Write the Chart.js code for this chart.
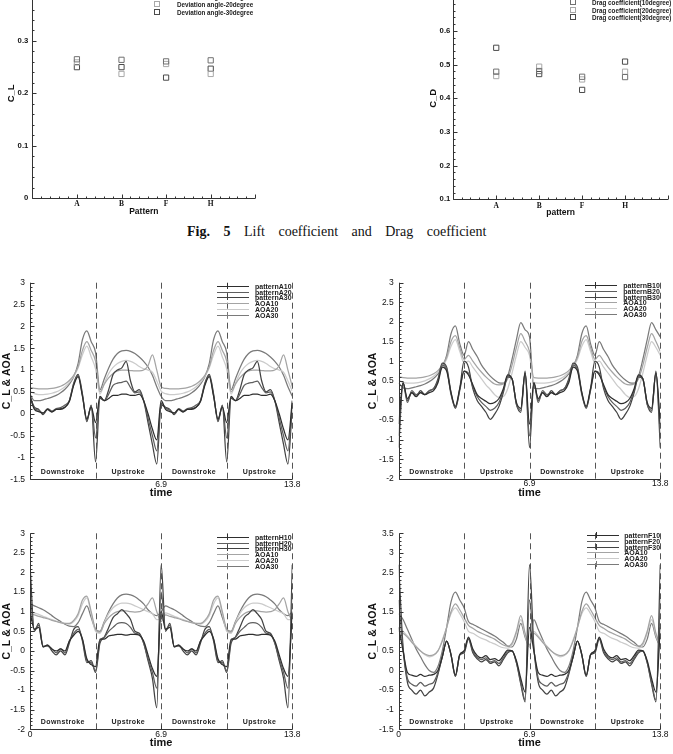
<!DOCTYPE html>
<html>
<head>
<meta charset="utf-8">
<title>Lift coefficient and Drag coefficient</title>
<script src="https://cdn.jsdelivr.net/npm/chart.js@4.4.1/dist/chart.umd.min.js"></script>
<style>
html,body{margin:0;padding:0;background:#fff;}
body{position:relative;width:673px;height:754px;overflow:hidden;font-family:'Liberation Sans',Arial,sans-serif;}
canvas{position:absolute;}
.lgt{position:absolute;font-weight:bold;font-size:7px;line-height:7px;color:#222;white-space:nowrap;transform:translateY(-50%);}
.lgl{position:absolute;height:0;border-top:1.2px solid #333;}
.lgk{position:absolute;width:0;height:6px;border-left:1px solid #333;}
.sq{position:absolute;width:4px;height:4px;border:1px solid #777;transform:translate(-50%,-50%);}
.slg{position:absolute;font-weight:bold;font-size:6.3px;line-height:7px;color:#222;white-space:nowrap;transform:translateY(-50%);}
.stroke{position:absolute;font-weight:bold;font-size:7px;letter-spacing:0.4px;color:#222;white-space:nowrap;transform:translate(-50%,-50%);}
.cap{position:absolute;left:187px;top:224px;font-family:'Liberation Serif','Times New Roman',serif;font-size:14px;word-spacing:10px;color:#111;white-space:nowrap;}
</style>
</head>
<body>
<div class="cap"><b>Fig. 5</b> Lift coefficient and Drag coefficient</div>
<script>
// ---------- top scatter data ----------
const categories = ['A', 'B', 'F', 'H'];
const clDev10 = [0.265, 0.264, 0.261, 0.263];
const clDev20 = [0.259, 0.237, 0.256, 0.237];
const clDev30 = [0.250, 0.250, 0.230, 0.247];
const cdDeg10 = [0.479, 0.481, 0.464, 0.463];
const cdDeg20 = [0.466, 0.494, 0.456, 0.479];
const cdDeg30 = [0.550, 0.472, 0.425, 0.509];
const clLegend = ['Deviation angle-10degree', 'Deviation angle-20degree', 'Deviation angle-30degree'];
const cdLegend = ['Drag coefficient(10degree)', 'Drag coefficient(20degree)', 'Drag coefficient(30degree)'];

// ---------- time series data ----------
const timeTicks = [0, 6.9, 13.8];
const strokeBounds = [0, 3.45, 6.9, 10.35, 13.8];
const strokeNames = ['Downstroke', 'Upstroke', 'Downstroke', 'Upstroke'];
const time = [0,0.23,0.46,0.69,0.92,1.15,1.38,1.61,1.84,2.07,2.3,2.53,2.76,2.99,3.22,3.45,3.68,3.91,4.14,4.37,4.6,4.83,5.06,5.29,5.52,5.75,5.98,6.21,6.44,6.67,6.9,
  7.13,7.36,7.59,7.82,8.05,8.28,8.51,8.74,8.97,9.2,9.43,9.66,9.89,10.12,10.35,10.58,10.81,11.04,11.27,11.5,11.73,11.96,12.19,12.42,12.65,12.88,13.11,13.34,13.57,13.8];

const labelsA = ['patternA10', 'patternA20', 'patternA30', 'AOA10', 'AOA20', 'AOA30'];
const labelsB = ['patternB10', 'patternB20', 'patternB30', 'AOA10', 'AOA20', 'AOA30'];
const labelsH = ['patternH10', 'patternH20', 'patternH30', 'AOA10', 'AOA20', 'AOA30'];
const labelsF = ['patternF10', 'patternF20', 'patternF30', 'AOA10', 'AOA20', 'AOA30'];

const aCl10 = [0.4,0.1,0.05,0.02,0.1,0.04,0.1,0.1,0.15,0.28,0.65,0.85,0.4,-0.12,0.15,-0.2,0.4,0.3,0.35,0.42,0.42,0.45,0.45,0.42,0.42,0.45,0.3,0,-0.35,-0.6,0.3,
  0.1,0.05,0.02,0.1,0.04,0.1,0.1,0.15,0.28,0.65,0.85,0.4,-0.12,0.15,-0.2,0.4,0.3,0.35,0.42,0.42,0.45,0.45,0.42,0.42,0.45,0.3,0,-0.35,-0.6,0.3];
const aCl20 = [0.4,0.13,0.08,0,0.12,0.06,0.12,0.14,0.2,0.3,0.68,0.88,0.42,-0.15,0.18,-0.55,0.38,0.3,0.45,0.65,0.7,0.72,0.75,0.6,0.48,0.5,0.3,-0.1,-0.5,-0.85,0.25,
  0.13,0.08,0,0.12,0.06,0.12,0.14,0.2,0.3,0.68,0.88,0.42,-0.15,0.18,-0.55,0.38,0.3,0.45,0.65,0.7,0.72,0.75,0.6,0.48,0.5,0.3,-0.1,-0.5,-0.85,0.25];
const aCl30 = [0.4,0.15,0.1,-0.02,0.1,0.05,0.1,0.12,0.15,0.3,0.7,0.9,0.45,-0.18,0.2,-1.1,0.35,0.3,0.55,0.9,1,1.05,1.2,0.75,0.5,0.55,0.3,-0.2,-0.7,-1.15,0.2,
  0.15,0.1,-0.02,0.1,0.05,0.1,0.12,0.15,0.3,0.7,0.9,0.45,-0.18,0.2,-1.1,0.35,0.3,0.55,0.9,1,1.05,1.2,0.75,0.5,0.55,0.3,-0.2,-0.7,-1.15,0.2];
const aAoa10 = [0.6,0.58,0.57,0.57,0.57,0.58,0.6,0.63,0.68,0.76,0.88,1.08,1.45,1.65,1.45,1.2,0.5,0.68,0.82,0.92,0.98,1,1,0.99,0.98,0.98,1,1.1,1.35,1,0.62,
  0.58,0.57,0.57,0.57,0.58,0.6,0.63,0.68,0.76,0.88,1.08,1.45,1.65,1.45,1.2,0.5,0.68,0.82,0.92,0.98,1,1,0.99,0.98,0.98,1,1.1,1.35,1,0.62];
const aAoa20 = [0.52,0.46,0.44,0.44,0.45,0.47,0.5,0.55,0.62,0.72,0.86,1.05,1.35,1.55,1.3,1.02,0.45,0.7,0.92,1.06,1.15,1.2,1.22,1.2,1.15,1.08,1.03,1,0.95,0.75,0.52,
  0.46,0.44,0.44,0.45,0.47,0.5,0.55,0.62,0.72,0.86,1.05,1.35,1.55,1.3,1.02,0.45,0.7,0.92,1.06,1.15,1.2,1.22,1.2,1.15,1.08,1.03,1,0.95,0.75,0.52];
const aAoa30 = [0.45,0.3,0.3,0.32,0.35,0.38,0.42,0.48,0.56,0.68,0.85,1.15,1.7,1.9,1.65,1.4,0.55,0.8,1.05,1.25,1.38,1.44,1.45,1.43,1.38,1.3,1.2,1.07,0.88,0.62,0.4,
  0.3,0.3,0.32,0.35,0.38,0.42,0.48,0.56,0.68,0.85,1.15,1.7,1.9,1.65,1.4,0.55,0.8,1.05,1.25,1.38,1.44,1.45,1.43,1.38,1.3,1.2,1.07,0.88,0.62,0.4];

const bCl10 = [-0.6,0.45,0.05,0.2,0.1,0.2,0.15,0.2,0.25,0.45,0.85,0.75,0.2,-0.15,0.3,0.75,0.65,0.4,0.15,0.05,-0.02,-0.08,-0.05,0.05,0.3,0.65,0.55,-0.05,-0.2,0.7,-0.6,
  0.45,0.05,0.2,0.1,0.2,0.15,0.2,0.25,0.45,0.85,0.75,0.2,-0.15,0.3,0.75,0.65,0.4,0.15,0.05,-0.02,-0.08,-0.05,0.05,0.3,0.65,0.55,-0.05,-0.2,0.7,-0.6];
const bCl20 = [-0.9,0.45,-0.05,0.25,0.15,0.2,0.15,0.25,0.3,0.5,0.9,0.8,0.15,-0.18,0.25,0.75,0.7,0.35,0.1,-0.05,-0.15,-0.25,-0.2,-0.05,0.25,0.62,0.55,-0.1,-0.25,0.7,-0.9,
  0.45,-0.05,0.25,0.15,0.2,0.15,0.25,0.3,0.5,0.9,0.8,0.15,-0.18,0.25,0.75,0.7,0.35,0.1,-0.05,-0.15,-0.25,-0.2,-0.05,0.25,0.62,0.55,-0.1,-0.25,0.7,-0.9];
const bCl30 = [-1.2,0.45,0,0.2,0.1,0.25,0.15,0.25,0.3,0.55,0.95,0.85,0.2,-0.2,0.3,1,0.85,0.3,0,-0.15,-0.3,-0.48,-0.35,-0.15,0.2,0.6,0.55,-0.1,-0.3,0.75,-1.2,
  0.45,0,0.2,0.1,0.25,0.15,0.25,0.3,0.55,0.95,0.85,0.2,-0.2,0.3,1,0.85,0.3,0,-0.15,-0.3,-0.48,-0.35,-0.15,0.2,0.6,0.55,-0.1,-0.3,0.75,-1.2];
const bAoa10 = [0.6,0.58,0.57,0.57,0.57,0.58,0.6,0.63,0.68,0.76,0.9,1.1,1.5,1.65,1.35,1.05,1.15,1,0.85,0.72,0.6,0.5,0.42,0.4,0.42,0.55,0.9,1.35,1.7,1.5,1.25,
  0.58,0.57,0.57,0.57,0.58,0.6,0.63,0.68,0.76,0.9,1.1,1.5,1.65,1.35,1.05,1.15,1,0.85,0.72,0.6,0.5,0.42,0.4,0.42,0.55,0.9,1.35,1.7,1.5,1.25];
const bAoa20 = [0.52,0.46,0.44,0.44,0.45,0.47,0.5,0.55,0.62,0.72,0.86,1.05,1.38,1.55,1.25,0.95,1,0.85,0.7,0.55,0.4,0.28,0.15,0.08,0.1,0.3,0.7,1.15,1.5,1.35,1.15,
  0.46,0.44,0.44,0.45,0.47,0.5,0.55,0.62,0.72,0.86,1.05,1.38,1.55,1.25,0.95,1,0.85,0.7,0.55,0.4,0.28,0.15,0.08,0.1,0.3,0.7,1.15,1.5,1.35,1.15];
const bAoa30 = [0.45,0.32,0.3,0.32,0.35,0.38,0.42,0.48,0.56,0.68,0.85,1.15,1.7,1.9,1.45,1.15,1.5,1.3,1.12,0.9,0.75,0.62,0.52,0.45,0.44,0.62,1.05,1.55,1.98,1.8,1.62,
  0.32,0.3,0.32,0.35,0.38,0.42,0.48,0.56,0.68,0.85,1.15,1.7,1.9,1.45,1.15,1.5,1.3,1.12,0.9,0.75,0.62,0.52,0.45,0.44,0.62,1.05,1.55,1.98,1.8,1.62];

const hCl10 = [1,0.55,0.6,0.1,0.15,0.05,0,0.05,0,0.25,0.4,0.5,0.3,-0.2,-0.35,-0.4,0.3,0.3,0.38,0.4,0.42,0.42,0.4,0.42,0.42,0.4,0.25,-0.1,-0.45,-0.65,1,
  0.55,0.6,0.1,0.15,0.05,0,0.05,0,0.25,0.4,0.5,0.3,-0.2,-0.35,-0.4,0.3,0.3,0.38,0.4,0.42,0.42,0.4,0.42,0.42,0.4,0.25,-0.1,-0.45,-0.65,1];
const hCl20 = [1.5,0.55,0.65,0.12,0.12,0.05,-0.05,0.05,-0.05,0.25,0.45,0.55,0.3,-0.25,-0.3,-0.5,0.25,0.35,0.5,0.6,0.7,0.72,0.7,0.6,0.45,0.42,0.2,-0.2,-0.55,-0.95,1.5,
  0.55,0.65,0.12,0.12,0.05,-0.05,0.05,-0.05,0.25,0.45,0.55,0.3,-0.25,-0.3,-0.5,0.25,0.35,0.5,0.6,0.7,0.72,0.7,0.6,0.45,0.42,0.2,-0.2,-0.55,-0.95,1.5];
const hCl30 = [2.2,0.5,0.7,0.1,0.15,0,-0.1,0,-0.1,0.2,0.55,0.62,0.25,-0.3,-0.25,-0.55,0.2,0.35,0.6,0.85,0.95,1.05,0.95,0.8,0.5,0.45,0.2,-0.25,-0.7,-1.45,2.2,
  0.5,0.7,0.1,0.15,0,-0.1,0,-0.1,0.2,0.55,0.62,0.25,-0.3,-0.25,-0.55,0.2,0.35,0.6,0.85,0.95,1.05,0.95,0.8,0.5,0.45,0.2,-0.25,-0.7,-1.45,2.2];
const hAoa10 = [0.95,0.92,0.88,0.85,0.82,0.78,0.75,0.72,0.7,0.7,0.78,0.95,1.3,1.4,1,0.55,0.48,0.7,0.85,0.95,1,1.02,1.02,1,0.99,1,1.05,1.2,1.35,1,0.75,
  0.92,0.88,0.85,0.82,0.78,0.75,0.72,0.7,0.7,0.78,0.95,1.3,1.4,1,0.55,0.48,0.7,0.85,0.95,1,1.02,1.02,1,0.99,1,1.05,1.2,1.35,1,0.75];
const hAoa20 = [1,0.97,0.93,0.88,0.84,0.8,0.76,0.72,0.7,0.68,0.75,0.9,1.2,1.35,0.95,0.5,0.45,0.72,0.95,1.1,1.18,1.22,1.22,1.2,1.15,1.1,1.05,1,0.95,0.8,0.8,
  0.97,0.93,0.88,0.84,0.8,0.76,0.72,0.7,0.68,0.75,0.9,1.2,1.35,0.95,0.5,0.45,0.72,0.95,1.1,1.18,1.22,1.22,1.2,1.15,1.1,1.05,1,0.95,0.8,0.8];
const hAoa30 = [1.2,1.15,1.1,1.05,0.98,0.9,0.82,0.75,0.68,0.63,0.62,0.72,0.95,1.15,0.85,0.55,0.5,0.75,1,1.2,1.35,1.43,1.45,1.43,1.38,1.3,1.2,1.05,0.95,0.9,1,
  1.15,1.1,1.05,0.98,0.9,0.82,0.75,0.68,0.63,0.62,0.72,0.95,1.15,0.85,0.55,0.5,0.75,1,1.2,1.35,1.43,1.45,1.43,1.38,1.3,1.2,1.05,0.95,0.9,1];

const fCl10 = [1.1,0.5,-0.05,-0.12,-0.15,-0.1,-0.15,-0.12,-0.1,0,0.35,0.75,0.4,-0.12,0.4,0.5,0.85,0.55,0.38,0.32,0.38,0.28,0.3,0.25,0.38,0.52,0.5,0.25,-0.2,-0.55,1.1,
  0.5,-0.05,-0.12,-0.15,-0.1,-0.15,-0.12,-0.1,0,0.35,0.75,0.4,-0.12,0.4,0.5,0.85,0.55,0.38,0.32,0.38,0.28,0.3,0.25,0.38,0.52,0.5,0.25,-0.2,-0.55,1.1];
const fCl20 = [1.8,0.55,-0.2,-0.35,-0.4,-0.3,-0.4,-0.35,-0.3,-0.05,0.35,0.75,0.4,-0.15,0.4,0.5,0.82,0.5,0.33,0.28,0.32,0.22,0.25,0.18,0.32,0.48,0.5,0.2,-0.3,-0.75,1.8,
  0.55,-0.2,-0.35,-0.4,-0.3,-0.4,-0.35,-0.3,-0.05,0.35,0.75,0.4,-0.15,0.4,0.5,0.82,0.5,0.33,0.28,0.32,0.22,0.25,0.18,0.32,0.48,0.5,0.2,-0.3,-0.75,1.8];
const fCl30 = [2.7,0.6,-0.3,-0.5,-0.6,-0.5,-0.65,-0.55,-0.45,-0.1,0.35,0.75,0.4,-0.15,0.4,0.45,0.8,0.45,0.3,0.22,0.28,0.18,0.22,0.12,0.28,0.45,0.5,0.2,-0.35,-0.8,2.7,
  0.6,-0.3,-0.5,-0.6,-0.5,-0.65,-0.55,-0.45,-0.1,0.35,0.75,0.4,-0.15,0.4,0.45,0.8,0.45,0.3,0.22,0.28,0.18,0.22,0.12,0.28,0.45,0.5,0.2,-0.35,-0.8,2.7];
const fAoa10 = [1,0.95,0.85,0.72,0.6,0.5,0.42,0.38,0.4,0.5,0.75,1.1,1.5,1.7,1.55,1.35,1.15,1.08,1,0.95,0.9,0.85,0.8,0.72,0.65,0.62,0.7,1,1.4,0.95,0.65,
  0.95,0.85,0.72,0.6,0.5,0.42,0.38,0.4,0.5,0.75,1.1,1.5,1.7,1.55,1.35,1.15,1.08,1,0.95,0.9,0.85,0.8,0.72,0.65,0.62,0.7,1,1.4,0.95,0.65];
const fAoa20 = [1.1,1,0.88,0.75,0.62,0.5,0.4,0.35,0.38,0.5,0.78,1.1,1.45,1.6,1.45,1.25,1,0.95,0.88,0.82,0.78,0.72,0.68,0.62,0.58,0.57,0.65,0.95,1.3,0.9,0.6,
  1,0.88,0.75,0.62,0.5,0.4,0.35,0.38,0.5,0.78,1.1,1.45,1.6,1.45,1.25,1,0.95,0.88,0.82,0.78,0.72,0.68,0.62,0.58,0.57,0.65,0.95,1.3,0.9,0.6];
const fAoa30 = [1.45,1.3,1.05,0.8,0.55,0.35,0.15,0,-0.05,0.1,0.5,1.1,1.75,2,1.8,1.6,1.25,1.18,1.12,1.06,1,0.94,0.88,0.8,0.72,0.62,0.6,0.8,1.2,0.85,0.6,
  1.3,1.05,0.8,0.55,0.35,0.15,0,-0.05,0.1,0.5,1.1,1.75,2,1.8,1.6,1.25,1.18,1.12,1.06,1,0.94,0.88,0.8,0.72,0.62,0.6,0.8,1.2,0.85,0.6];

// ---------- styles ----------
const FONT = "'Liberation Sans', Arial, sans-serif";
const SERIF = "'Liberation Serif', 'Times New Roman', serif";
Chart.defaults.font.family = FONT;
Chart.defaults.color = '#111';
const seriesColors = ['#2e2e2e', '#5e5e5e', '#424242', '#a4a4a4', '#cbcbcb', '#7a7a7a'];
const legendTickRows = [0, 2, 5];
const scatterColors = ['#707070', '#a8a8a8', '#4a4a4a'];

const deco = {
  id: 'deco',
  afterDraw(chart, args, o) {
    const {ctx, chartArea: a, scales: {x, y}} = chart;
    ctx.save();
    ctx.lineWidth = 1;
    if (o.dashed) {
      ctx.strokeStyle = '#555';
      ctx.setLineDash([6, 4]);
      o.dashed.forEach(v => {
        const px = Math.round(x.getPixelForValue(v)) + 0.5;
        ctx.beginPath(); ctx.moveTo(px, a.top); ctx.lineTo(px, a.bottom); ctx.stroke();
      });
      ctx.setLineDash([]);
    }
    ctx.strokeStyle = '#333';
    const L = Math.round(a.left) + 0.5, B = Math.round(a.bottom) + 0.5;
    ctx.beginPath(); ctx.moveTo(L, a.top); ctx.lineTo(L, B); ctx.lineTo(a.right, B); ctx.stroke();
    const ny = Math.round((y.max - y.min) / o.yMinor);
    for (let i = 0; i <= ny; i++) {
      const v = y.min + i * o.yMinor;
      const r = v / o.yMajor;
      const major = Math.abs(r - Math.round(r)) < 1e-6;
      const py = Math.round(y.getPixelForValue(v)) + 0.5;
      ctx.beginPath(); ctx.moveTo(L, py); ctx.lineTo(L + (major ? 4 : 2), py); ctx.stroke();
    }
    if (o.xMinor) {
      const nx = Math.round((x.max - x.min) / o.xMinor);
      for (let i = 0; i <= nx; i++) {
        const v = x.min + i * o.xMinor;
        const r = v / o.xMajor;
        const major = Math.abs(r - Math.round(r)) < 1e-6;
        const px = Math.round(x.getPixelForValue(v)) + 0.5;
        ctx.beginPath(); ctx.moveTo(px, B); ctx.lineTo(px, B - (major ? 4 : 2)); ctx.stroke();
      }
    }
    (o.xMajorVals || []).forEach(v => {
      const px = Math.round(x.getPixelForValue(v)) + 0.5;
      ctx.beginPath(); ctx.moveTo(px, B); ctx.lineTo(px, B - 4); ctx.stroke();
    });
    ctx.restore();
  }
};

function addCanvas(c) {
  const cv = document.createElement('canvas');
  cv.width = c.w; cv.height = c.h;
  cv.style.left = c.left + 'px'; cv.style.top = c.top + 'px';
  cv.style.width = c.w + 'px'; cv.style.height = c.h + 'px';
  document.body.appendChild(cv);
  return cv;
}
function addDiv(cls, text, left, top, extra) {
  const d = document.createElement('div');
  d.className = cls;
  if (text) d.textContent = text;
  d.style.left = left + 'px'; d.style.top = top + 'px';
  if (extra) Object.assign(d.style, extra);
  document.body.appendChild(d);
  return d;
}
const fmt = v => String(Math.round(v * 100) / 100);

// ---------- scatter panels ----------
function makeScatter(c) {
  const cv = addCanvas(c);
  const datasets = c.series.map((vals, i) => ({
    label: c.legend[i],
    data: categories.map((cat, j) => ({x: j + 1, y: vals[j]})),
    pointStyle: 'rect', pointRadius: 3.7, borderWidth: 1,
    borderColor: scatterColors[i], backgroundColor: 'rgba(0,0,0,0)'
  }));
  new Chart(cv, {
    type: 'scatter',
    data: {datasets},
    options: {
      responsive: false, animation: false, events: [],
      layout: {padding: {top: c.padTop, right: c.padRight, left: 0, bottom: 0}},
      plugins: {legend: {display: false}, tooltip: {enabled: false},
        deco: {yMajor: 0.1, yMinor: 0.02, xMajor: 1, xMinor: 0.2}},
      scales: {
        x: {type: 'linear', min: 0, max: 5,
          afterFit: s => { s.height = c.xH; },
          afterBuildTicks: s => { s.ticks = categories.map((cat, j) => ({value: j + 1})); },
          ticks: {autoSkip: false, maxRotation: 0, padding: 2, color: '#111',
            font: {family: SERIF, size: 7.5, weight: 'bold'},
            callback: v => categories[Math.round(v) - 1] || ''},
          grid: {display: false, drawTicks: false}, border: {display: false},
          title: {display: true, text: c.xTitle, color: '#111',
            font: {size: 8.5, weight: 'bold'}, padding: {top: 0, bottom: c.xTitlePad}}},
        y: {min: c.yMin, max: c.yMax,
          afterFit: s => { s.width = c.yW; },
          ticks: {stepSize: 0.1, padding: c.yTickPad, color: '#111',
            font: {size: 7.7, weight: 'bold'}, callback: fmt},
          grid: {display: false, drawTicks: false}, border: {display: false},
          title: {display: true, text: c.yTitle, color: '#111',
            font: {size: 9.5, weight: 'bold'}, padding: {top: c.yTitlePad, bottom: 0}}}
      }
    },
    plugins: [deco]
  });
  c.legend.forEach((lab, i) => {
    const yy = c.lgY0 + i * c.lgStep;
    addDiv('sq', '', c.lgSqX, yy, {borderColor: scatterColors[i]});
    addDiv('slg', lab, c.lgTextX, yy);
  });
}

makeScatter({left: 0, top: -20, w: 300, h: 240, padTop: 7.6, padRight: 44.7, yW: 32.3, xH: 22,
  yMin: 0, yMax: 0.4, yTickPad: 4, xTitle: 'Pattern', xTitlePad: 3.4, yTitle: 'C_L', yTitlePad: 6,
  series: [clDev10, clDev20, clDev30], legend: clLegend, lgSqX: 157, lgTextX: 177, lgY0: -3.7, lgStep: 8});
makeScatter({left: 421, top: -20, w: 252, h: 240, padTop: 17.3, padRight: 2.7, yW: 32.3, xH: 20.7,
  yMin: 0.1, yMax: 0.7, yTickPad: 3, xTitle: 'pattern', xTitlePad: 1.9, yTitle: 'C_D', yTitlePad: 6.6,
  series: [cdDeg10, cdDeg20, cdDeg30], legend: cdLegend, lgSqX: 573, lgTextX: 592, lgY0: 1.7, lgStep: 7.8});

// ---------- time panels ----------
function makeTime(c) {
  const cv = addCanvas(c);
  const datasets = c.series.map((vals, i) => ({
    label: c.labels[i],
    data: time.map((t, j) => ({x: t, y: vals[j]})),
    borderColor: seriesColors[i], borderWidth: 1.25, pointRadius: 0, fill: false,
    cubicInterpolationMode: 'monotone'
  }));
  const chart = new Chart(cv, {
    type: 'line',
    data: {datasets},
    options: {
      responsive: false, animation: false, events: [],
      layout: {padding: {top: c.padTop, right: c.padRight, left: 0, bottom: 0}},
      plugins: {legend: {display: false}, tooltip: {enabled: false},
        deco: {yMajor: 0.5, yMinor: 0.1, xMajorVals: timeTicks, dashed: strokeBounds.slice(1)}},
      scales: {
        x: {type: 'linear', min: 0, max: 13.8,
          afterFit: s => { s.height = c.xH; },
          afterBuildTicks: s => { s.ticks = timeTicks.map(v => ({value: v})); },
          ticks: {autoSkip: false, maxRotation: 0, padding: 0, color: '#111', font: {size: 8.5},
            callback: v => (v === 0 && !c.showZero) ? '' : fmt(v)},
          grid: {display: false, drawTicks: false}, border: {display: false},
          title: {display: true, text: 'time', color: '#111',
            font: {size: 11, weight: 'bold'}, padding: {top: 0, bottom: c.xTitlePad}}},
        y: {min: c.yMin, max: c.yMax,
          afterFit: s => { s.width = c.yW; },
          ticks: {stepSize: 0.5, padding: 5, color: '#111', font: {size: 8.5}, callback: fmt},
          grid: {display: false, drawTicks: false}, border: {display: false},
          title: {display: true, text: 'C_L & AOA', color: '#111',
            font: {size: 10.5, weight: 'bold'}, padding: {top: c.yTitlePad, bottom: 0}}}
      }
    },
    plugins: [deco]
  });
  const xs = chart.scales.x, a = chart.chartArea;
  strokeNames.forEach((name, i) => {
    const cx = c.left + (xs.getPixelForValue(strokeBounds[i]) + xs.getPixelForValue(strokeBounds[i + 1])) / 2;
    addDiv('stroke', name, cx, c.top + a.bottom - 8.3);
  });
  c.labels.forEach((lab, i) => {
    const yy = c.lgY0 + i * 5.8;
    addDiv('lgl', '', c.lgLineX, yy, {width: '32px', borderTopColor: seriesColors[i]});
    if (legendTickRows.includes(i)) addDiv('lgk', '', c.lgLineX + 9.5, yy - 3, {borderLeftColor: seriesColors[i]});
    addDiv('lgt', lab, c.lgTextX, yy);
  });
}

makeTime({left: -2, top: 270, w: 338, h: 230, yW: 32, xH: 20.7, padTop: 12.7, padRight: 43.7,
  yMin: -1.5, yMax: 3, showZero: false, yTitlePad: 3, xTitlePad: 0.7,
  labels: labelsA, series: [aCl10, aCl20, aCl30, aAoa10, aAoa20, aAoa30],
  lgLineX: 217.3, lgTextX: 255, lgY0: 285.7});
makeTime({left: 367, top: 270, w: 306, h: 230, yW: 31.7, xH: 21, padTop: 12.7, padRight: 12.7,
  yMin: -2, yMax: 3, showZero: false, yTitlePad: 0, xTitlePad: 0.7,
  labels: labelsB, series: [bCl10, bCl20, bCl30, bAoa10, bAoa20, bAoa30],
  lgLineX: 585.3, lgTextX: 623.3, lgY0: 285});
makeTime({left: -2, top: 520, w: 338, h: 234, yW: 32, xH: 24.7, padTop: 13.3, padRight: 43.7,
  yMin: -2, yMax: 3, showZero: true, yTitlePad: 3, xTitlePad: 4.1,
  labels: labelsH, series: [hCl10, hCl20, hCl30, hAoa10, hAoa20, hAoa30],
  lgLineX: 217.3, lgTextX: 255, lgY0: 536.7});
makeTime({left: 367, top: 520, w: 306, h: 234, yW: 31.7, xH: 24.7, padTop: 13.3, padRight: 12.7,
  yMin: -1.5, yMax: 3.5, showZero: true, yTitlePad: 0, xTitlePad: 4.1,
  labels: labelsF, series: [fCl10, fCl20, fCl30, fAoa10, fAoa20, fAoa30],
  lgLineX: 586.7, lgTextX: 624.3, lgY0: 535});
</script>
</body>
</html>
